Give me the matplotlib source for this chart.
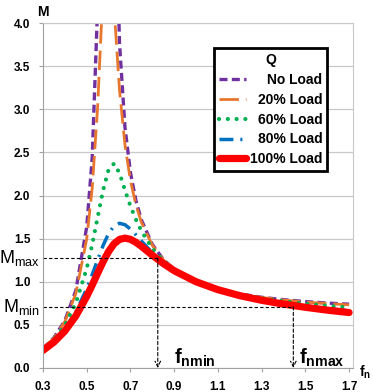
import numpy as np
import matplotlib

matplotlib.use("Agg")
import matplotlib.pyplot as plt

plt.rcParams["font.family"] = ["Liberation Sans", "DejaVu Sans"]
plt.rcParams["mathtext.fontset"] = "custom"
plt.rcParams["mathtext.rm"] = "Liberation Sans"
plt.rcParams["mathtext.bf"] = "Liberation Sans:bold"

# normalized frequency fn
fn = [0.30, 0.35, 0.40, 0.45, 0.50, 0.525, 0.55, 0.575, 0.60, 0.625, 0.65, 0.675,
      0.70, 0.725, 0.75, 0.80, 0.85, 0.90, 1.0, 1.1, 1.2, 1.3, 1.4, 1.5, 1.6, 1.7]

gain_no_load = [0.226, 0.351, 0.550, 0.897, 1.637, 2.433, 4.20, 11.5, 22.0, 6.17, 3.76, 2.79,
                2.267, 1.941, 1.717, 1.433, 1.260, 1.144, 1.0, 0.915, 0.859, 0.820, 0.792, 0.770, 0.753, 0.740]
gain_20 = [0.224, 0.347, 0.538, 0.862, 1.497, 2.082, 3.03, 4.41, 5.07, 4.18, 3.22, 2.585,
           2.173, 1.892, 1.690, 1.423, 1.256, 1.143, 1.0, 0.914, 0.858, 0.818, 0.788, 0.765, 0.747, 0.732]
gain_60 = [0.217, 0.330, 0.497, 0.751, 1.154, 1.430, 1.749, 2.062, 2.30, 2.37, 2.26, 2.06,
           1.877, 1.722, 1.589, 1.385, 1.242, 1.139, 1.0, 0.912, 0.852, 0.807, 0.773, 0.745, 0.721, 0.701]
gain_80 = [0.209, 0.311, 0.452, 0.649, 0.919, 1.082, 1.254, 1.421, 1.559, 1.647, 1.678, 1.661,
           1.610, 1.544, 1.472, 1.336, 1.223, 1.132, 1.0, 0.910, 0.844, 0.794, 0.753, 0.719, 0.689, 0.664]
gain_100 = [0.204, 0.300, 0.429, 0.603, 0.830, 0.961, 1.099, 1.233, 1.351, 1.440, 1.491, 1.506,
            1.492, 1.457, 1.411, 1.308, 1.212, 1.128, 1.0, 0.908, 0.839, 0.785, 0.741, 0.704, 0.671, 0.643]

labels = ["No Load", "20% Load", "60% Load", "80% Load", "100% Load"]

m_max, m_min = 1.275, 0.71
fn_min, fn_max = 0.825, 1.445

xticks = [0.3, 0.5, 0.7, 0.9, 1.1, 1.3, 1.5, 1.7]
yticks = [0.0, 0.5, 1.0, 1.5, 2.0, 2.5, 3.0, 3.5, 4.0]

fig = plt.figure(figsize=(3.73, 3.92), dpi=100)
ax = fig.add_axes([43 / 373, 1 - 368 / 392, 310 / 373, 345 / 392])

styles = [
    dict(color="#7030A0", lw=2.4, dashes=(2.4, 1.3)),
    dict(color="#E8772E", lw=2.0, dashes=(7, 2.5)),
    dict(color="#00B050", lw=3.0, dashes=(0.01, 2.1), dash_capstyle="round"),
    dict(color="#0070C0", lw=2.5, dashes=(4, 2, 0.6, 2)),
    dict(color="#FF0000", lw=5.2, solid_capstyle="round"),
]
series = [gain_no_load, gain_20, gain_60, gain_80, gain_100]
for vals, lab, st in zip(series, labels, styles):
    ax.plot(fn, vals, label=lab, **st)

# operating range markers
dash_kw = dict(color="black", lw=0.8, ls=(0, (3, 2)))
ax.plot([0.3, fn_min], [m_max, m_max], **dash_kw)
ax.plot([0.3, fn_max], [m_min, m_min], **dash_kw)
for f, m in [(fn_min, m_max), (fn_max, m_min)]:
    ax.annotate("", xy=(f, 0.0), xytext=(f, m),
                arrowprops=dict(arrowstyle="->", color="black", lw=0.8,
                                linestyle=(0, (3, 2)), shrinkA=0, shrinkB=0))

ax.text(0.90, 0.045, r"f$_{\mathbf{nmin}}$", fontsize=14.5, fontweight="bold")
ax.text(1.47, 0.045, r"f$_{\mathbf{nmax}}$", fontsize=14.5, fontweight="bold")

trans = ax.get_yaxis_transform()
ax.text(-0.01, m_max, r"M$_{\mathrm{max}}$", transform=trans, ha="right", va="center",
        fontsize=13, clip_on=False)
ax.text(-0.01, m_min, r"M$_{\mathrm{min}}$", transform=trans, ha="right", va="center",
        fontsize=13, clip_on=False)

ax.set_xlim(0.3, 1.718)
ax.set_ylim(0, 4.0)
ax.set_xticks(xticks)
ax.set_xticklabels([f"{v:.1f}" for v in xticks], fontweight="bold", fontsize=8.5)
ax.set_yticks(yticks)
ax.set_yticklabels([f"{v:.1f}" for v in yticks], fontweight="bold", fontsize=8.5)
ax.tick_params(length=3, width=0.8, color="#A0A0A0", pad=6)
ax.yaxis.grid(True, color="#C8C8C8", lw=0.9)
ax.set_axisbelow(True)
for s in ax.spines.values():
    s.set_color("#C8C8C8")
ax.spines["left"].set_color("#A0A0A0")
ax.spines["bottom"].set_color("#A0A0A0")

fig.text(43 / 373, 1 - 12 / 392, "M", ha="center", va="center", fontsize=10, fontweight="bold")
fig.text(359 / 373, 1 - 372 / 392, r"f$_{\mathbf{n}}$", ha="left", va="center",
         fontsize=10, fontweight="bold")

leg = ax.legend(loc="upper right", bbox_to_anchor=(0.939, 0.947), title="Q",
                prop=dict(weight="bold", size=10), title_fontproperties=dict(weight="bold", size=10),
                frameon=True, fancybox=False, edgecolor="black", framealpha=1,
                handlelength=2.0, handletextpad=0.25, labelspacing=0.42, borderpad=0.35)
leg.get_frame().set_linewidth(2.0)

# right-align legend labels
fig.canvas.draw()
renderer = fig.canvas.get_renderer()
texts = leg.get_texts()
widths = [t.get_window_extent(renderer).width for t in texts]
wmax = max(widths)
for t, w in zip(texts, widths):
    t.set_x(wmax - w)

fig.savefig("out.png", dpi=100)
plt.close(fig)
